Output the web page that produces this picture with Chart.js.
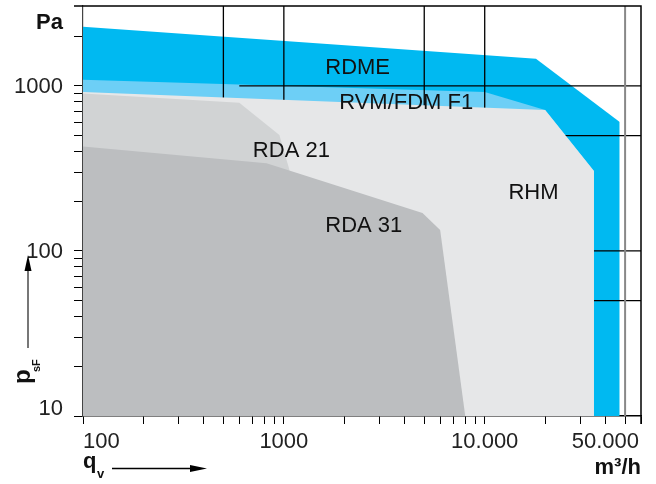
<!DOCTYPE html>
<html>
<head>
<meta charset="utf-8">
<script src="https://cdn.jsdelivr.net/npm/chart.js@4.4.1/dist/chart.umd.min.js"></script>
<style>
html,body{margin:0;padding:0;background:#fff}
</style>
</head>
<body>
<canvas id="fanChart" width="656" height="484"></canvas>
<script>

// outlines of the working ranges: flow q (m3/h) and pressure p (Pa)

const rdmeQ = [100, 18000, 47000, 47000]
const rdmeP = [2280, 1460, 605, 10]

const rvmQ = [100, 10000, 20000, 35000, 35000]
const rvmP = [1090, 920, 715, 305, 10]

const rhmQ = [100, 20000, 35000, 35000]
const rhmP = [920, 715, 305, 10]

const rda21Q = [100, 600, 950, 1070, 1070]
const rda21P = [900, 790, 505, 305, 10]

const rda31Q = [100, 820, 4900, 6000, 8000]
const rda31P = [430, 340, 170, 134, 10]

// region names and where their text sits

const regionNames = ['RDME', 'RVM/FDM F1', 'RDA 21', 'RHM', 'RDA 31']
const regionLabelQ = [2330, 4065, 1090, 17500, 2500]
const regionLabelP = [1285, 789, 404, 225, 141]

// ticks

const xTicks = [100,200,300,400,500,600,700,800,900,1000,2000,3000,4000,5000,6000,7000,8000,9000,10000,20000,30000,40000,50000,60000]
const yTicks = [10,20,30,40,50,60,70,80,90,100,200,300,400,500,600,700,800,900,1000,2000]
const xLabelValues = [100, 1000, 10000, 50000]
const xLabelTexts = ['100', '1000', '10.000', '50.000']
const yLabelValues = [10, 100, 1000]
const yLabelTexts = ['10', '100', '1000']

// grid lines that show through the blue ranges
const gridQ = [500, 1000, 5000, 10000]
const gridP = [1000, 500, 100, 50]


const toPts = (q,p) => q.map((v,i)=>({x:v, y:p[i]}))

const area = (label, q, p, color) => ({
label,
data: toPts(q,p),
fill: 'start',
backgroundColor: color,
borderWidth: 0,
pointRadius: 0,
tension: 0
})

const FONT = '"Liberation Sans", Arial, sans-serif'

function arrowHead(ctx, x, y, dir){
ctx.beginPath()
if(dir==='right'){
ctx.moveTo(x, y); ctx.lineTo(x-17, y-3.5); ctx.lineTo(x-17, y+3.5)
}else{
ctx.moveTo(x, y); ctx.lineTo(x-3.5, y+16); ctx.lineTo(x+3.5, y+16)
}
ctx.closePath()
ctx.fill()
}

const decor = {
id: 'decor',

// grid goes over the blue ranges but under the grey ones
afterDatasetDraw(chart, args){
if(chart.data.datasets[args.index].label !== 'RVM/FDM F1') return
const {ctx, chartArea:ca, scales:{x, y}} = chart
ctx.save()
ctx.strokeStyle = '#000'
ctx.lineWidth = 1.3
gridQ.forEach(v=>{
const px = x.getPixelForValue(v)
ctx.beginPath(); ctx.moveTo(px, ca.top); ctx.lineTo(px, ca.bottom); ctx.stroke()
})
gridP.forEach(v=>{
const py = y.getPixelForValue(v)
const from = v === 1000 ? x.getPixelForValue(600) : ca.left
ctx.beginPath(); ctx.moveTo(from, py); ctx.lineTo(ca.right, py); ctx.stroke()
})
ctx.restore()
},

afterDraw(chart){
const {ctx, chartArea:ca, scales:{x, y}} = chart
ctx.save()

// 50.000 line, top and right frame
ctx.strokeStyle = '#888'
ctx.lineWidth = 2
const p50 = x.getPixelForValue(50000)
ctx.beginPath(); ctx.moveTo(p50, ca.top); ctx.lineTo(p50, ca.bottom); ctx.stroke()
ctx.strokeStyle = '#000'
ctx.lineWidth = 1.5
ctx.beginPath()
ctx.moveTo(ca.left-9, ca.top); ctx.lineTo(ca.right, ca.top); ctx.lineTo(ca.right, ca.bottom+8)
ctx.stroke()

// region names
ctx.fillStyle = '#111'
ctx.font = '22px ' + FONT
ctx.textAlign = 'center'
ctx.textBaseline = 'middle'
regionNames.forEach((n,i)=>{
ctx.fillText(n, x.getPixelForValue(regionLabelQ[i]), y.getPixelForValue(regionLabelP[i]))
})

// tick labels
ctx.fillStyle = '#222'
ctx.textBaseline = 'alphabetic'
xLabelValues.forEach((v,i)=>{
let px = x.getPixelForValue(v)
ctx.textAlign = 'center'
if(i===0) ctx.textAlign = 'left'
if(i===xLabelValues.length-1){ ctx.textAlign = 'right'; px = ca.right - 2 }
ctx.fillText(xLabelTexts[i], px, ca.bottom + 32)
})
ctx.textAlign = 'right'
ctx.textBaseline = 'middle'
yLabelValues.forEach((v,i)=>{
let py = y.getPixelForValue(v) + 1
if(v===10) py -= 8
ctx.fillText(yLabelTexts[i], ca.left - 20, py)
})

// units
ctx.fillStyle = '#111'
ctx.textBaseline = 'alphabetic'
ctx.font = 'bold 22px ' + FONT
ctx.fillText('Pa', ca.left - 20, ca.top + 23)
ctx.fillText('m³/h', ca.right, 474)

// q_v with arrow
ctx.textAlign = 'left'
ctx.fillText('q', ca.left, 468)
ctx.font = 'bold 13px ' + FONT
ctx.fillText('v', ca.left + 14, 478)
ctx.strokeStyle = '#000'
ctx.lineWidth = 1.5
ctx.beginPath(); ctx.moveTo(112, 468.5); ctx.lineTo(195, 468.5); ctx.stroke()
ctx.fillStyle = '#000'
arrowHead(ctx, 207, 468.5, 'right')

// p_sF rotated with arrow
ctx.fillStyle = '#111'
ctx.save()
ctx.translate(29.5, 384)
ctx.rotate(-Math.PI/2)
ctx.font = 'bold 24px ' + FONT
ctx.fillText('p', 0, 0)
ctx.font = 'bold 11px ' + FONT
ctx.fillText('sF', 12, 10)
ctx.restore()
ctx.strokeStyle = '#777'
ctx.lineWidth = 2
ctx.beginPath(); ctx.moveTo(28, 348); ctx.lineTo(28, 268); ctx.stroke()
ctx.fillStyle = '#000'
arrowHead(ctx, 28, 255, 'up')

ctx.restore()
}
}

new Chart(document.getElementById('fanChart'), {
type: 'line',
data: {
datasets: [
area('RDA 31', rda31Q, rda31P, '#bcbec0'),
area('RDA 21', rda21Q, rda21P, '#d1d3d4'),
area('RHM', rhmQ, rhmP, '#e6e7e8'),
area('RVM/FDM F1', rvmQ, rvmP, '#6dcff6'),
area('RDME', rdmeQ, rdmeP, '#00b9f1')
]
},
options: {
responsive: false,
animation: false,
layout: {padding: {top: 6, right: 15, left: 0, bottom: 0}},
plugins: {legend: {display: false}, tooltip: {enabled: false}},
scales: {
x: {
type: 'logarithmic',
min: 100, max: 60000,
afterBuildTicks: s => { s.ticks = xTicks.map(v=>({value:v})) },
afterFit: s => { s.height = 68 },
ticks: {display: false},
grid: {drawOnChartArea: false, drawTicks: true, tickLength: 8, color: '#000'},
border: {color: '#000', width: 1.5}
},
y: {
type: 'logarithmic',
min: 10, max: 3050,
afterBuildTicks: s => { s.ticks = yTicks.map(v=>({value:v})) },
afterFit: s => { s.width = 83 },
ticks: {display: false},
grid: {drawOnChartArea: false, drawTicks: true, tickLength: 9, color: '#000'},
border: {color: '#444', width: 1.2}
}
}
},
plugins: [decor]
})

</script>
</body>
</html>
